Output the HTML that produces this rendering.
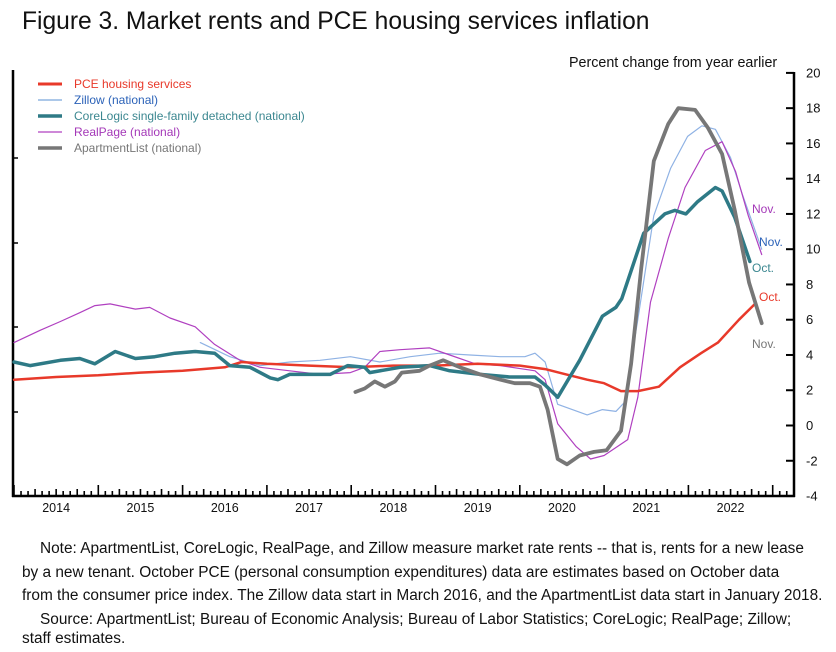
<!DOCTYPE html>
<html><head><meta charset="utf-8"><style>
body{margin:0;background:#fff;width:836px;height:652px;overflow:hidden;font-family:"Liberation Sans",Arial,sans-serif}
svg{position:absolute;left:0;top:0}
.note{position:absolute;font-size:15.4px;color:#111;white-space:nowrap}
</style></head><body>
<svg id="chart" width="836" height="652">
<text x="22" y="29" font-size="24.6" fill="#111">Figure 3. Market rents and PCE housing services inflation</text>
<text x="569" y="67" font-size="14.3" fill="#111">Percent change from year earlier</text>
<g id="axes"></g><g id="series"></g>
<g font-size="12">
<line x1="38" y1="84" x2="62" y2="84" stroke="#e8392a" stroke-width="3"/><text x="74" y="88" fill="#e8392a">PCE housing services</text>
<line x1="38" y1="100" x2="62" y2="100" stroke="#7aa6dc" stroke-width="1.2"/><text x="74" y="104" fill="#2b62b8">Zillow (national)</text>
<line x1="38" y1="116" x2="62" y2="116" stroke="#2e7a86" stroke-width="3.5"/><text x="74" y="120" fill="#3b8790">CoreLogic single-family detached (national)</text>
<line x1="38" y1="132" x2="62" y2="132" stroke="#b040c0" stroke-width="1.2"/><text x="74" y="136" fill="#a438b8">RealPage (national)</text>
<line x1="38" y1="148" x2="62" y2="148" stroke="#777" stroke-width="3.5"/><text x="74" y="152" fill="#777">ApartmentList (national)</text>
</g>
<g font-size="12">
<text x="752" y="213" fill="#a438b8">Nov.</text>
<text x="759" y="246" fill="#2b62b8">Nov.</text>
<text x="752" y="272" fill="#3b8790">Oct.</text>
<text x="759" y="301" fill="#e8392a">Oct.</text>
<text x="752" y="348" fill="#777">Nov.</text>
</g>
</svg>
<div class="note" style="left:40px;top:540px">Note: ApartmentList, CoreLogic, RealPage, and Zillow measure market rate rents -- that is, rents for a new lease</div>
<div class="note" style="left:22px;top:564px">by a new tenant. October PCE (personal consumption expenditures) data are estimates based on October data</div>
<div class="note" style="left:22px;top:587px">from the consumer price index. The Zillow data start in March 2016, and the ApartmentList data start in January 2018.</div>
<div class="note" style="left:40px;top:611px">Source: ApartmentList; Bureau of Economic Analysis; Bureau of Labor Statistics; CoreLogic; RealPage; Zillow;</div>
<div class="note" style="left:22px;top:630px">staff estimates.</div>
<script>
const yTicks=[20,18,16,14,12,10,8,6,4,2,0,-2,-4];
const years=[2014,2015,2016,2017,2018,2019,2020,2021,2022];
const pceDates=[2014.0,2014.5,2015.0,2015.5,2016.0,2016.5,2016.7,2017.0,2017.5,2018.0,2018.5,2019.0,2019.5,2020.0,2020.3,2020.55,2020.8,2021.0,2021.2,2021.4,2021.65,2021.9,2022.15,2022.35,2022.6,2022.79];
const pceVals=[2.6,2.75,2.85,3.0,3.1,3.3,3.6,3.5,3.4,3.3,3.4,3.4,3.5,3.4,3.2,2.9,2.6,2.4,1.95,1.95,2.2,3.3,4.1,4.7,6.0,6.9];
const clDates=[2014.0,2014.19,2014.55,2014.78,2014.96,2015.2,2015.44,2015.67,2015.91,2016.15,2016.38,2016.56,2016.8,2017.04,2017.13,2017.27,2017.51,2017.75,2017.96,2018.16,2018.22,2018.58,2018.93,2019.17,2019.53,2019.88,2020.18,2020.3,2020.45,2020.71,2020.98,2021.14,2021.21,2021.47,2021.72,2021.84,2021.97,2022.11,2022.32,2022.4,2022.55,2022.73];
const clVals=[3.6,3.4,3.7,3.8,3.5,4.2,3.8,3.9,4.1,4.2,4.1,3.4,3.3,2.7,2.6,2.9,2.9,2.9,3.4,3.3,3.0,3.3,3.4,3.1,2.9,2.75,2.75,2.3,1.6,3.7,6.2,6.7,7.2,10.9,12.0,12.2,12.0,12.7,13.5,13.3,11.8,9.3];
const zDates=[2016.21,2016.56,2016.92,2017.27,2017.63,2017.99,2018.34,2018.7,2019.05,2019.41,2019.77,2020.06,2020.18,2020.3,2020.45,2020.8,2020.98,2021.14,2021.24,2021.4,2021.59,2021.79,2021.99,2022.16,2022.32,2022.5,2022.64,2022.87];
const zVals=[4.7,3.9,3.4,3.6,3.7,3.9,3.6,3.9,4.1,4.0,3.9,3.9,4.1,3.6,1.2,0.6,0.9,0.8,1.3,6.0,11.9,14.6,16.4,17.0,16.8,15.2,13.1,10.0];
const rpDates=[2014.0,2014.31,2014.55,2014.78,2014.96,2015.14,2015.44,2015.61,2015.85,2016.15,2016.38,2016.68,2016.92,2017.27,2017.63,2017.99,2018.16,2018.34,2018.58,2018.93,2019.17,2019.47,2019.77,2020.18,2020.3,2020.45,2020.67,2020.84,2021.0,2021.28,2021.4,2021.55,2021.76,2021.96,2022.2,2022.4,2022.56,2022.71,2022.87];
const rpVals=[4.7,5.4,5.9,6.4,6.8,6.9,6.6,6.7,6.1,5.6,4.6,3.7,3.3,3.1,2.9,3.0,3.3,4.2,4.3,4.4,4.0,3.5,3.4,3.1,2.6,0.1,-1.2,-1.9,-1.7,-0.8,1.6,7.0,10.6,13.5,15.6,16.1,14.4,11.9,9.7];
const alDates=[2018.05,2018.16,2018.28,2018.4,2018.52,2018.6,2018.81,2018.93,2019.09,2019.29,2019.53,2019.77,2019.94,2020.12,2020.24,2020.33,2020.45,2020.56,2020.71,2020.88,2021.03,2021.2,2021.32,2021.44,2021.59,2021.76,2021.88,2022.08,2022.23,2022.4,2022.55,2022.72,2022.87];
const alVals=[1.9,2.1,2.5,2.2,2.5,3.0,3.1,3.4,3.7,3.3,2.9,2.6,2.4,2.4,2.2,0.9,-1.9,-2.2,-1.7,-1.5,-1.4,-0.3,3.5,8.9,15.0,17.1,18.0,17.9,16.9,15.4,12.2,8.1,5.8];
const NS='http://www.w3.org/2000/svg';
const X0=14,XPY=84.3,Y0=425.5,YPU=17.63;
function xs(t){return X0+(t-2014)*XPY;}
function ys(v){return Y0-v*YPU;}
function mk(tag,attrs,parent){const e=document.createElementNS(NS,tag);for(const k in attrs)e.setAttribute(k,attrs[k]);parent.appendChild(e);return e;}
const ax=document.getElementById('axes');
let a=mk('line',{x1:13,y1:70,x2:13,y2:497,stroke:'#000','stroke-width':2.5},ax);


a=mk('line',{x1:794,y1:72,x2:794,y2:497,stroke:'#000','stroke-width':2.5},ax);


a=mk('line',{x1:12,y1:496,x2:795,y2:496,stroke:'#000','stroke-width':2.5},ax);


[158,243,327,412].forEach(y=>mk('line',{x1:13,y1:y,x2:18,y2:y,stroke:'#000','stroke-width':1.5},ax));
yTicks.forEach(v=>{
  mk('line',{x1:786,y1:ys(v),x2:794,y2:ys(v),stroke:'#000','stroke-width':2},ax);
  const t=mk('text',{x:806,y:ys(v)+4.5,'font-size':13,fill:'#111'},ax);
  t.textContent=v;
  
  
});
for(let m=0;m<111;m++){
  const x=xs(2014+m/12); if(x>792)break;
  const h=m%12==0?11:(m%3==0?7:5);
  mk('line',{x1:x,y1:496,x2:x,y2:496-h,stroke:'#000','stroke-width':1.6},ax);
}
years.forEach(y=>{
  const t=mk('text',{x:xs(y+0.5),y:512,'font-size':12.5,fill:'#111','text-anchor':'middle'},ax);
  t.textContent=y;
  
  
});
const sg=document.getElementById('series');
function line(d,v,color,w,name){
  const p=mk('polyline',{points:d.map((t,i)=>xs(t).toFixed(1)+','+ys(v[i]).toFixed(1)).join(' '),fill:'none',stroke:color,'stroke-width':w,'stroke-linejoin':'round','stroke-linecap':'round'},sg);
  
  
}
line(zDates,zVals,'#8fb2e4',1.2,'zillow-line');
line(rpDates,rpVals,'#b040c0',1.2,'realpage-line');
line(pceDates,pceVals,'#e8392a',2.5,'pce-line');
line(clDates,clVals,'#2e7a86',3.5,'corelogic-line');
line(alDates,alVals,'#777',3.8,'apartmentlist-line');
</script>
</body></html>
